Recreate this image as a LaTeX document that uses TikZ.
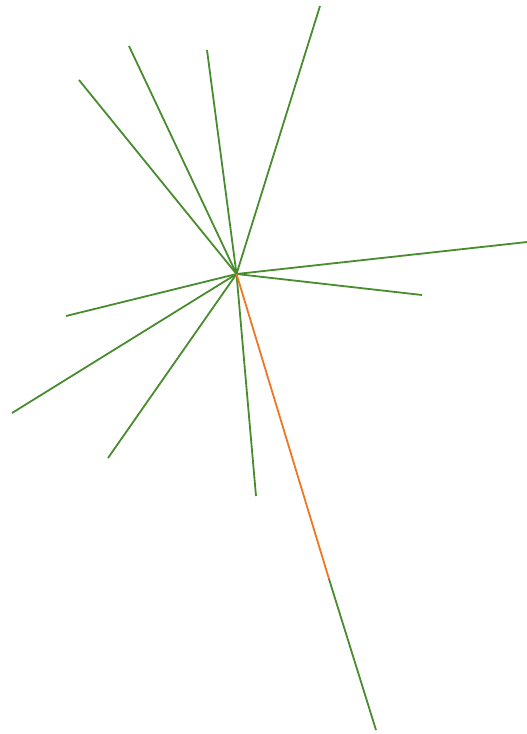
\documentclass[tikz,border=0pt]{standalone}
\definecolor{lgreen}{RGB}{72,140,46}
\definecolor{lorange}{RGB}{240,118,36}
\begin{document}
\begin{tikzpicture}[x=1pt,y=-1pt,ray/.style={draw=lgreen,line width=1.8pt},oray/.style={draw=lorange,line width=1.8pt}]
\useasboundingbox (0,0) rectangle (527,734);
\coordinate (c) at (236.5,274);
\coordinate (e1) at (320,6);
\coordinate (e2) at (207,50);
\coordinate (e3) at (129,46);
\coordinate (e4) at (79,80);
\coordinate (e5) at (527,242);
\coordinate (e6) at (422,295);
\coordinate (e7) at (66,316);
\coordinate (e8) at (12,413);
\coordinate (e9) at (108,458);
\coordinate (e10) at (256,496);
\coordinate (m) at (329,579);
\coordinate (e11) at (376,730);
\foreach \e in {e1,e2,e3,e4,e5,e6,e7,e8,e9,e10} \draw[ray] (c) -- (\e);
\draw[oray] (c) -- (m);
\draw[ray] (m) -- (e11);
\end{tikzpicture}
\end{document}
